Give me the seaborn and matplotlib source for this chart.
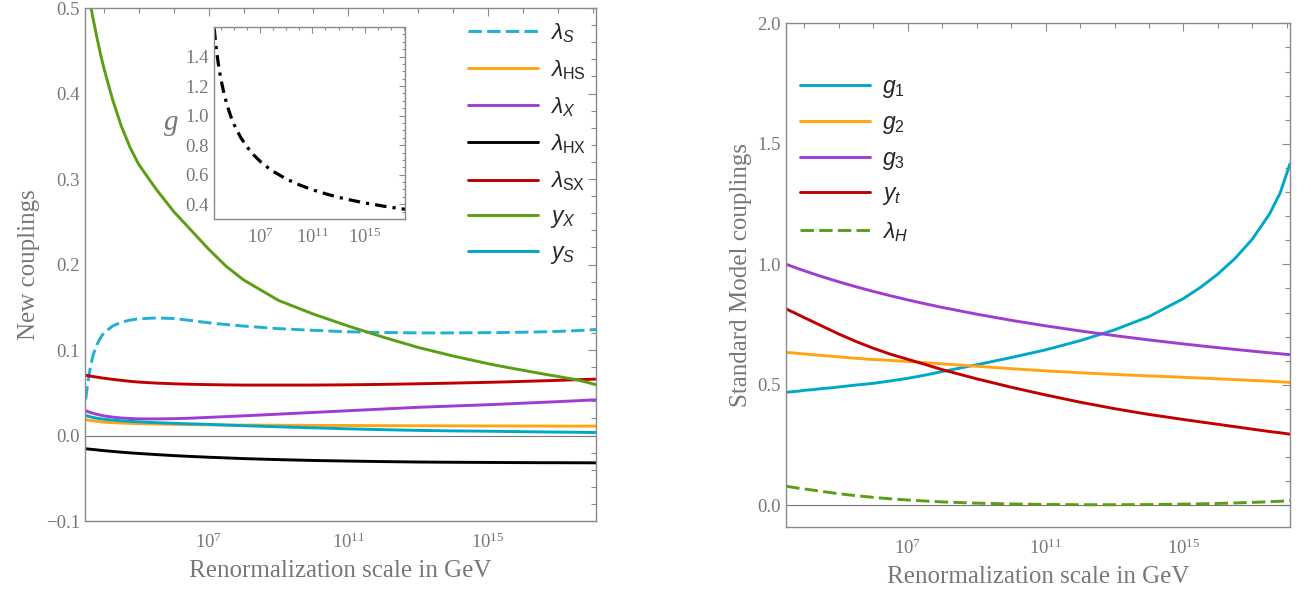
import numpy as np
import pandas as pd
import matplotlib
matplotlib.use('Agg')
import matplotlib.pyplot as plt
import seaborn as sns
from matplotlib.ticker import FixedLocator, NullFormatter

# =============================================================================
# data (log10 of the scale in GeV)
# =============================================================================
log_mu = [3.48, 3.55, 3.62, 3.7, 3.8, 3.9, 4.0, 4.25, 4.5, 4.75, 5.0, 5.5, 6.0, 6.5, 7.0, 7.5,
          8, 9, 10, 11, 12, 13, 14, 15, 15.5, 16, 16.5, 17, 17.5, 17.8, 18.09]

# left panel: new couplings
lam_S = [0.042, 0.064, 0.081, 0.095, 0.106, 0.114, 0.120, 0.128, 0.1325, 0.135, 0.1365, 0.1375, 0.1368, 0.1345, 0.1318, 0.1298,
         0.128, 0.125, 0.123, 0.1213, 0.1205, 0.120, 0.120, 0.1203, 0.1205, 0.1208, 0.1212, 0.1218, 0.1226, 0.1232, 0.124]
lam_HS = [0.0185, 0.018, 0.0175, 0.0171, 0.0166, 0.0161, 0.0156, 0.015, 0.0146, 0.0142, 0.0139, 0.0134, 0.013, 0.0127, 0.0125, 0.0123,
          0.0122, 0.012, 0.0118, 0.0117, 0.0115, 0.0114, 0.0113, 0.0112, 0.0112, 0.0111, 0.0111, 0.011, 0.011, 0.011, 0.011]
lam_X = [0.029, 0.0279, 0.0269, 0.0259, 0.0248, 0.0239, 0.023, 0.0215, 0.0205, 0.0199, 0.0195, 0.0194, 0.0197, 0.0203, 0.0212, 0.0221,
         0.023, 0.025, 0.027, 0.029, 0.031, 0.033, 0.0345, 0.036, 0.0369, 0.0378, 0.0387, 0.0396, 0.0406, 0.0412, 0.0418]
lam_HX = [-0.0155, -0.0158, -0.0161, -0.0164, -0.0168, -0.0173, -0.0177, -0.0186, -0.0195, -0.0203, -0.021, -0.0223, -0.0235, -0.0245, -0.0254, -0.0262,
          -0.027, -0.0282, -0.0292, -0.0299, -0.0305, -0.031, -0.0313, -0.0315, -0.0316, -0.0317, -0.0318, -0.0318, -0.0319, -0.0319, -0.032]
lam_SX = [0.0705, 0.070, 0.0694, 0.0689, 0.0683, 0.0676, 0.067, 0.0657, 0.0645, 0.0634, 0.0625, 0.0613, 0.0605, 0.0599, 0.0595, 0.0592,
          0.059, 0.059, 0.059, 0.0593, 0.0598, 0.0605, 0.0613, 0.0622, 0.0627, 0.0633, 0.0639, 0.0645, 0.0652, 0.0656, 0.066]
y_X = [0.535, 0.519, 0.503, 0.486, 0.466, 0.447, 0.430, 0.393, 0.362, 0.337, 0.317, 0.288, 0.262, 0.240, 0.218, 0.198,
       0.182, 0.158, 0.142, 0.128, 0.115, 0.103, 0.093, 0.084, 0.080, 0.0763, 0.0726, 0.069, 0.0655, 0.0626, 0.0594]
y_S = [0.0235, 0.0226, 0.0218, 0.021, 0.0202, 0.0196, 0.019, 0.018, 0.0172, 0.0166, 0.016, 0.015, 0.0143, 0.0136, 0.013, 0.0122,
       0.0115, 0.0102, 0.009, 0.0078, 0.0068, 0.006, 0.0054, 0.005, 0.0047, 0.0045, 0.0042, 0.004, 0.0038, 0.0036, 0.0035]
# inset: dark gauge coupling g
g_dark = [1.59, 1.526, 1.469, 1.411, 1.348, 1.292, 1.243, 1.141, 1.061, 0.995, 0.940, 0.853, 0.787, 0.734, 0.690, 0.654,
          0.622, 0.571, 0.531, 0.498, 0.471, 0.447, 0.427, 0.409, 0.401, 0.394, 0.386, 0.380, 0.373, 0.3695, 0.366]

# right panel: Standard Model couplings
g1 = [0.469, 0.470, 0.471, 0.472, 0.473, 0.475, 0.477, 0.480, 0.484, 0.487, 0.491, 0.499, 0.506, 0.516, 0.527, 0.540,
      0.555, 0.583, 0.613, 0.645, 0.683, 0.728, 0.783, 0.858, 0.905, 0.960, 1.025, 1.105, 1.210, 1.295, 1.417]
g2 = [0.634, 0.6335, 0.633, 0.632, 0.6305, 0.629, 0.628, 0.625, 0.622, 0.619, 0.616, 0.610, 0.605, 0.601, 0.597, 0.592,
      0.587, 0.577, 0.567, 0.558, 0.550, 0.543, 0.537, 0.531, 0.528, 0.525, 0.5215, 0.518, 0.515, 0.5125, 0.510]
g3 = [1.0, 0.9963, 0.9926, 0.9885, 0.9833, 0.9783, 0.9733, 0.9613, 0.9496, 0.9384, 0.9275, 0.907, 0.8877, 0.8696, 0.8525, 0.8364,
      0.8212, 0.7932, 0.7678, 0.7447, 0.7236, 0.7042, 0.6862, 0.6696, 0.6617, 0.6541, 0.6468, 0.6397, 0.6328, 0.6288, 0.625]
y_t = [0.815, 0.810, 0.805, 0.800, 0.793, 0.786, 0.779, 0.762, 0.745, 0.728, 0.711, 0.680, 0.652, 0.627, 0.606, 0.585,
       0.563, 0.525, 0.490, 0.458, 0.428, 0.401, 0.377, 0.356, 0.346, 0.336, 0.326, 0.316, 0.306, 0.301, 0.295]
lam_H = [0.079, 0.0775, 0.076, 0.074, 0.072, 0.070, 0.068, 0.063, 0.058, 0.053, 0.048, 0.040, 0.033, 0.027, 0.022, 0.018,
         0.014, 0.009, 0.0055, 0.0035, 0.0025, 0.0025, 0.003, 0.005, 0.0062, 0.0078, 0.0098, 0.012, 0.0148, 0.0168, 0.019]

mu = 10.0 ** np.array(log_mu)

# =============================================================================
# style
# =============================================================================
sns.set_style('white')
plt.rcParams['font.family'] = ['Liberation Serif', 'DejaVu Serif']
plt.rcParams['mathtext.fontset'] = 'custom'
plt.rcParams['mathtext.rm'] = 'Liberation Serif'
plt.rcParams['mathtext.it'] = 'Liberation Sans:italic'
plt.rcParams['mathtext.sf'] = 'Liberation Sans'

GRAY = '#777777'
FRAME = '#8a8a8a'
CYAN_D = '#1fb0d6'
CYAN = '#00a8c8'
ORANGE = '#ffa514'
PURPLE = '#a03cd0'
RED = '#c00000'
GREEN = '#5a9e14'
LW = 2.1
DASH = [4.6, 1.8]


def style_axes(ax, ymajor, yminor, lab_size=13.5):
    ax.set_xscale('log')
    ax.set_xlim(10 ** 3.46, 10 ** 18.09)
    for s in ax.spines.values():
        s.set_color(FRAME)
        s.set_linewidth(1.0)
    ax.xaxis.set_major_locator(FixedLocator([1e7, 1e11, 1e15]))
    ax.xaxis.set_minor_locator(FixedLocator(10.0 ** np.arange(4, 19)))
    ax.xaxis.set_minor_formatter(NullFormatter())
    ax.set_xticklabels([r'$\mathrm{10^{7}}$', r'$\mathrm{10^{11}}$', r'$\mathrm{10^{15}}$'])
    ax.yaxis.set_major_locator(FixedLocator(ymajor))
    ax.yaxis.set_minor_locator(FixedLocator(yminor))
    ax.tick_params(which='both', direction='in', top=True, right=True,
                   color=FRAME, labelcolor=GRAY, labelsize=lab_size, width=0.8)
    ax.tick_params(which='major', length=6)
    ax.tick_params(which='minor', length=3.5)
    ax.tick_params(axis='x', which='major', pad=8)


fig = plt.figure(figsize=(13.11, 5.93), dpi=100)

# =============================================================================
# left panel: new couplings
# =============================================================================
ax1 = fig.add_axes([0.0648, 0.1214, 0.3898, 0.8651])
ax1.axhline(0, color=GRAY, lw=0.8, zorder=1)
sns.lineplot(x=mu, y=lam_S, ax=ax1, color=CYAN_D, lw=LW, label=r'$\lambda_S$')
ax1.lines[-1].set_dashes(DASH)
sns.lineplot(x=mu, y=lam_HS, ax=ax1, color=ORANGE, lw=LW, label=r'$\lambda_{\mathsf{HS}}$')
sns.lineplot(x=mu, y=lam_X, ax=ax1, color=PURPLE, lw=LW, label=r'$\lambda_X$')
sns.lineplot(x=mu, y=lam_HX, ax=ax1, color='black', lw=LW, label=r'$\lambda_{\mathsf{HX}}$')
sns.lineplot(x=mu, y=lam_SX, ax=ax1, color=RED, lw=LW, label=r'$\lambda_{\mathsf{SX}}$')
sns.lineplot(x=mu, y=y_X, ax=ax1, color=GREEN, lw=LW, label=r'$y_X$')
sns.lineplot(x=mu, y=y_S, ax=ax1, color=CYAN, lw=LW, label=r'$y_S$')
ax1.set_ylim(-0.1, 0.5)
style_axes(ax1, np.arange(-0.1, 0.51, 0.1), np.arange(-0.1, 0.5, 0.02))
ax1.set_yticklabels(['\u22120.1', '0.0', '0.1', '0.2', '0.3', '0.4', '0.5'])
ax1.set_xlabel('Renormalization scale in GeV', color=GRAY, fontsize=18, labelpad=6)
ax1.set_ylabel('New couplings', color=GRAY, fontsize=18, labelpad=4)
leg1 = ax1.legend(loc='upper left', bbox_to_anchor=(0.7495, 0.975), frameon=False,
                  fontsize=16.5, handlelength=3.05, handletextpad=0.52, labelspacing=0.58,
                  borderpad=0, borderaxespad=0)
leg1.get_lines()[0].set_dashes(DASH)

# inset: dark gauge coupling
ax_in = fig.add_axes([0.1632, 0.6307, 0.1457, 0.3238])
sns.lineplot(x=mu, y=g_dark, ax=ax_in, color='black', lw=2.3)
ax_in.lines[-1].set_dashes([3.6, 1.9, 1.0, 1.9])
ax_in.set_ylim(0.3, 1.6)
style_axes(ax_in, np.arange(0.4, 1.41, 0.2), np.arange(0.3, 1.6, 0.05))
ax_in.set_yticklabels(['0.4', '0.6', '0.8', '1.0', '1.2', '1.4'])
ax_in.tick_params(which='major', length=4)
ax_in.tick_params(which='minor', length=2)
ax_in.tick_params(axis='x', which='major', pad=6)
ax_in.set_ylabel('g', color=GRAY, fontsize=21, style='italic', rotation=0, labelpad=10, va='center')

# =============================================================================
# right panel: Standard Model couplings
# =============================================================================
ax2 = fig.add_axes([0.5992, 0.1113, 0.3848, 0.8494])
ax2.axhline(0, color=GRAY, lw=0.8, zorder=1)
sns.lineplot(x=mu, y=g1, ax=ax2, color=CYAN, lw=LW, label=r'$g_{\mathsf{1}}$')
sns.lineplot(x=mu, y=g2, ax=ax2, color=ORANGE, lw=LW, label=r'$g_{\mathsf{2}}$')
sns.lineplot(x=mu, y=g3, ax=ax2, color=PURPLE, lw=LW, label=r'$g_{\mathsf{3}}$')
sns.lineplot(x=mu, y=y_t, ax=ax2, color=RED, lw=LW, label=r'$y_t$')
sns.lineplot(x=mu, y=lam_H, ax=ax2, color=GREEN, lw=LW, label=r'$\lambda_H$')
ax2.lines[-1].set_dashes(DASH)
ax2.set_ylim(-0.09, 2.0)
style_axes(ax2, np.arange(0, 2.01, 0.5), np.arange(0, 2.0, 0.1))
ax2.set_yticklabels(['0.0', '0.5', '1.0', '1.5', '2.0'])
ax2.set_xlabel('Renormalization scale in GeV', color=GRAY, fontsize=18, labelpad=6)
ax2.set_ylabel('Standard Model couplings', color=GRAY, fontsize=18, labelpad=4)
leg2 = ax2.legend(loc='upper left', bbox_to_anchor=(0.0287, 0.893), frameon=False,
                  fontsize=16.5, handlelength=3.05, handletextpad=0.52, labelspacing=0.55,
                  borderpad=0, borderaxespad=0)
leg2.get_lines()[-1].set_dashes(DASH)

fig.savefig('out.png', dpi=100)
